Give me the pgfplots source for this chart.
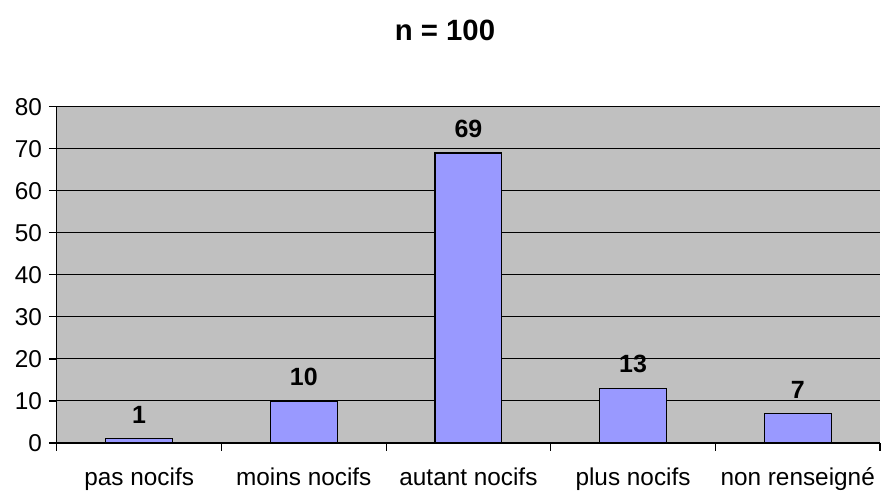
\documentclass[border=0pt]{standalone}
\usepackage{fontspec}
\setmainfont{Liberation Sans}
\usepackage{pgfplots}
\pgfplotsset{compat=1.18}
\definecolor{plotbg}{HTML}{C0C0C0}
\definecolor{barfill}{HTML}{9999FF}
\begin{document}
\begin{tikzpicture}
\begin{axis}[
  name=ax,
  scale only axis,
  width=412.5pt, height=168.5pt,
  xmin=-0.5, xmax=4.5, ymin=0, ymax=80,
  axis background/.style={fill=plotbg},
  axis x line*=bottom, axis y line*=left,
  axis line style={black, line width=0.6pt},
  xtick={0,1,2,3,4},
  xticklabels={pas nocifs, moins nocifs, autant nocifs, plus nocifs, non renseigné},
  major x tick style={draw=none},
  minor xtick={-0.5,0.5,1.5,2.5,3.5,4.5},
  minor x tick style={black, line width=0.6pt},
  minor tick length=4pt,
  ytick={0,10,...,80},
  major tick length=4pt,
  tick align=outside,
  ytick style={black, line width=0.6pt},
  ymajorgrids,
  grid style={black, line width=0.45pt},
  /pgf/number format/assume math mode=true,
  tick label style={font=\fontsize{12.2}{14}\selectfont},
  xticklabel style={anchor=base, yshift=-17.5pt, inner sep=0pt},
  ybar, bar width=33.5pt,
  nodes near coords,
  nodes near coords style={font=\fontsize{12.5}{14}\selectfont\bfseries, anchor=south, yshift=4pt, text=black},
]
\addplot[fill=barfill, draw=black, line width=0.6pt] coordinates {(0,1) (1,10) (2,69) (3,13) (4,7)};
\end{axis}
\node[font=\fontsize{14.7}{17}\selectfont\bfseries] at ([xshift=-11.75pt, yshift=38.5pt]ax.north) {n = 100};
\pgfresetboundingbox
\path ([shift={(-28.5pt,-24pt)}]ax.south west) rectangle ([shift={(1.5pt,53.5pt)}]ax.north east);
\end{tikzpicture}
\end{document}
